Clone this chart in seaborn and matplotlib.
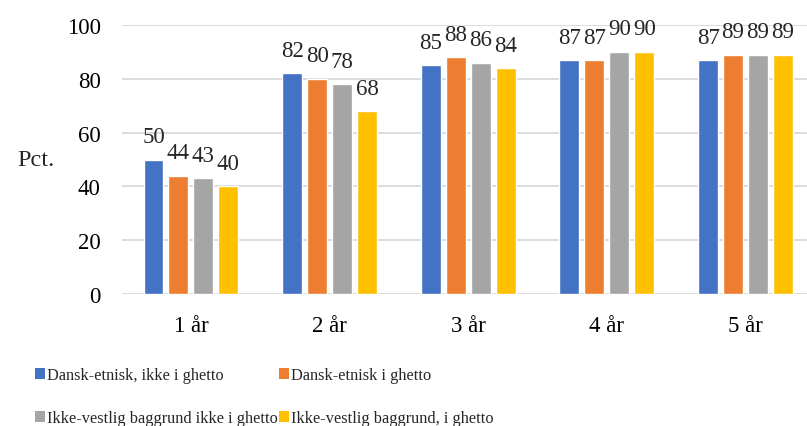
import matplotlib
matplotlib.use("Agg")
import matplotlib.pyplot as plt
import pandas as pd
import seaborn as sns
from matplotlib.patches import Patch

years = ["1 år", "2 år", "3 år", "4 år", "5 år"]
groups = [
    "Dansk-etnisk, ikke i ghetto",
    "Dansk-etnisk i ghetto",
    "Ikke-vestlig baggrund ikke i ghetto",
    "Ikke-vestlig baggrund, i ghetto",
]
dansk_ikke_ghetto = [50, 82, 85, 87, 87]
dansk_ghetto = [44, 80, 88, 87, 89]
ikkevest_ikke_ghetto = [43, 78, 86, 90, 89]
ikkevest_ghetto = [40, 68, 84, 90, 89]
colors = ["#4472C4", "#ED7D31", "#A5A5A5", "#FFC000"]

series = [dansk_ikke_ghetto, dansk_ghetto, ikkevest_ikke_ghetto, ikkevest_ghetto]
rows = []
for name, vals in zip(groups, series):
    for yr, v in zip(years, vals):
        rows.append({"år": yr, "gruppe": name, "pct": v})
df = pd.DataFrame(rows)

sns.set_style("white")
plt.rcParams["font.family"] = ["Liberation Serif", "DejaVu Serif"]

fig = plt.figure(figsize=(8.07, 4.27), dpi=100)
ax = fig.add_axes([0.1507, 0.309, 0.859, 0.630])

sns.barplot(data=df, x="år", y="pct", hue="gruppe", hue_order=groups,
            palette=colors, width=0.72, gap=0.2, saturation=1,
            legend=False, ax=ax)

for cont in ax.containers:
    ax.bar_label(cont, fontsize=16.5, padding=9)

ax.set_ylim(0, 100)
ax.set_yticks(range(0, 101, 20))
ax.set_xlim(-0.5, 4.5)
ax.yaxis.grid(True, color="#D9D9D9", linewidth=1.3)
ax.set_axisbelow(True)
for s in ax.spines.values():
    s.set_visible(False)
ax.tick_params(axis="both", length=0, labelsize=16.5, colors="black")
ax.tick_params(axis="y", pad=15)
ax.tick_params(axis="x", pad=15)
ax.set_xlabel("")
ax.set_ylabel("Pct.", rotation=0, fontsize=17.5, labelpad=22, va="center")

handles = [Patch(facecolor=c, edgecolor="none") for c in colors]
order = [0, 2, 1, 3]
fig.legend([handles[i] for i in order], [groups[i] for i in order],
           ncol=2, loc="upper left", bbox_to_anchor=(0.043, 0.138),
           frameon=False, fontsize=11.8, handlelength=0.6, handleheight=0.6,
           handletextpad=0.15, columnspacing=0.05, labelspacing=1.65,
           borderaxespad=0, borderpad=0)

fig.savefig("out.png", dpi=100)
